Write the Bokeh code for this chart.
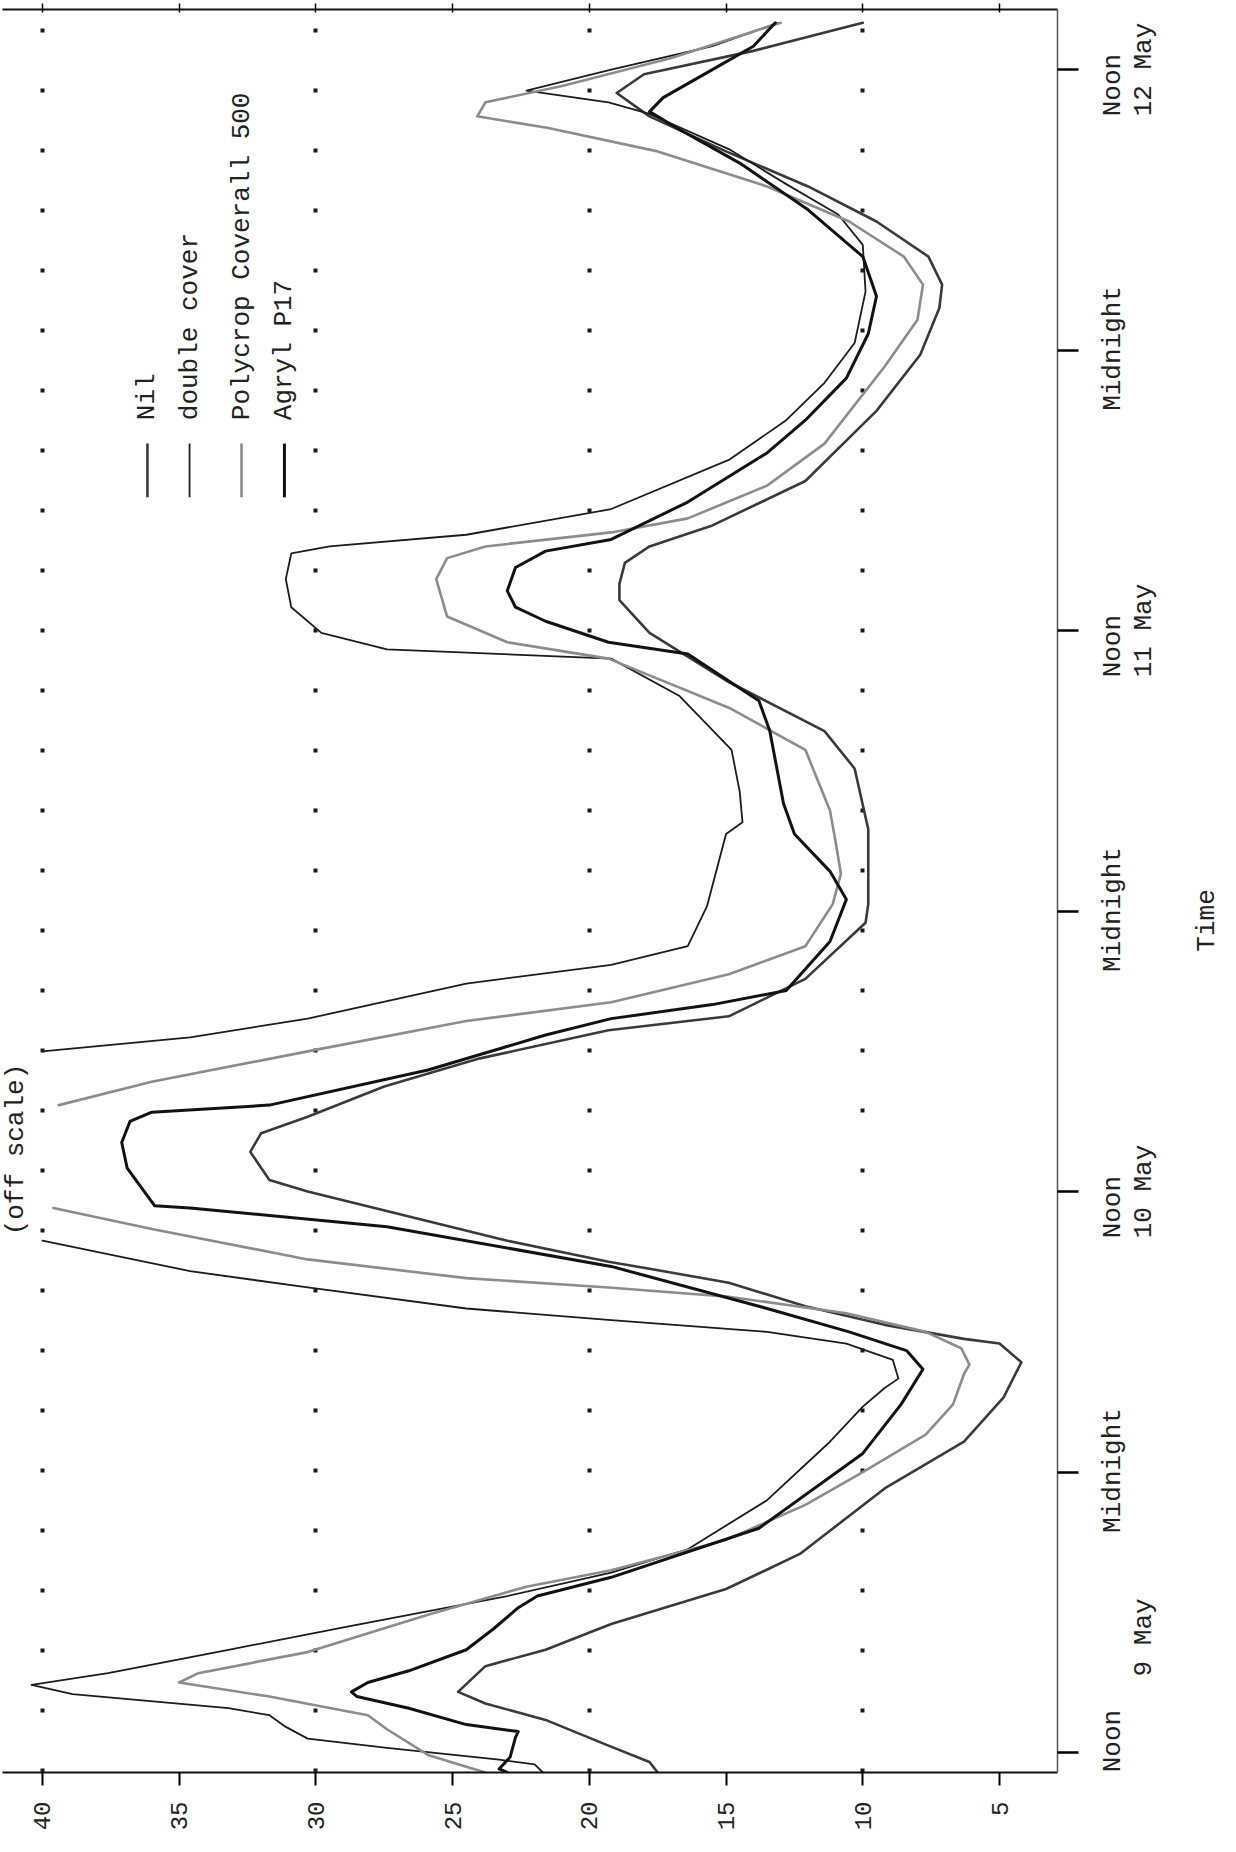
import math
from bokeh.plotting import figure
from bokeh.layouts import row
from bokeh.models import LinearAxis, FixedTicker, Range1d, Label
from bokeh.embed import file_html
from bokeh.resources import INLINE
from bokeh.core.properties import value

FONT = "Liberation Mono"
NAN = float("nan")

# ---- axes / labels -------------------------------------------------------
temp_ticks = [5, 10, 15, 20, 25, 30, 35, 40]
temp_grid = [10, 20, 30, 40]
time_ticks = [0, 12, 24, 36, 48, 60, 72]          # hours after noon, 9 May
time_line1 = ["Noon", "Midnight", "Noon", "Midnight", "Noon", "Midnight", "Noon"]
time_line2 = ["9 May", "", "10 May", "", "11 May", "", "12 May"]
# where each rotated label line starts, relative to its tick (hours) - layout only
line1_offsets = [-0.84, -2.6, -2.0, -2.6, -2.0, -2.6, -2.0]
line2_offsets = [3.26, 0.0, -2.0, 0.0, -2.0, 0.0, -2.0]
axis_title = "Time"
axis_title_at = 35.6

# ---- data: (hours after noon 9 May, temperature degC); NaN = off scale ----
nil_pts = [(-0.85, 17.5), (-0.4, 17.8), (0.3, 19.3), (1.4, 21.6), (2.1, 23.8), (2.6, 24.8),
           (3.7, 23.8), (4.4, 21.6), (5.5, 19.2), (7.0, 15.0), (8.5, 12.3), (11.3, 9.2),
           (13.3, 6.3), (15.2, 4.85), (16.7, 4.2), (17.5, 5.0), (17.7, 6.3), (18.3, 9.2),
           (19.1, 12.1), (20.1, 14.9), (20.7, 17.8), (21.0, 19.3), (21.9, 23.0), (24.0, 30.3),
           (24.5, 31.7), (25.7, 32.4), (26.5, 32.0), (27.2, 30.3), (28.5, 27.5), (29.7, 24.0),
           (30.9, 19.3), (31.5, 14.9), (33.1, 12.1), (35.5, 9.9), (36.3, 9.8), (39.5, 9.8),
           (42.1, 10.3), (43.7, 11.4), (45.8, 14.9), (47.9, 17.8), (49.3, 18.9), (50.0, 18.9),
           (50.9, 18.7), (51.6, 17.8), (52.5, 15.5), (54.4, 12.1), (57.4, 9.5), (59.8, 7.9),
           (61.8, 7.2), (62.8, 7.1), (64.0, 7.6), (65.5, 9.5), (67.0, 12.0), (68.5, 15.0),
           (70.0, 17.8), (71.0, 19.0), (71.8, 18.0), (72.8, 14.0), (74.0, 10.0)]

double_pts = [(-0.85, 21.7), (-0.5, 22.0), (-0.3, 23.3), (0.2, 27.4), (0.6, 30.3), (1.1, 31.1),
              (1.6, 31.7), (1.9, 33.2), (2.5, 38.9), (2.9, 40.4), (3.4, 37.6), (4.4, 33.2),
              (5.4, 28.8), (6.7, 23.0), (7.7, 19.2), (8.7, 16.4), (10.8, 13.5), (13.3, 11.2),
              (14.8, 10.0), (15.6, 9.2), (16.0, 8.7), (16.8, 8.9), (17.5, 10.6), (18.0, 13.5),
              (18.5, 19.2), (19.0, 24.5), (19.9, 30.3), (20.6, 34.6), (21.9, 40.0), (NAN, NAN),
              (30.0, 40.0), (30.6, 34.6), (31.4, 30.3), (32.9, 24.5), (33.7, 19.2), (34.5, 16.4),
              (36.2, 15.7), (39.3, 15.0), (39.8, 14.4), (41.1, 14.5), (42.9, 14.8), (45.2, 16.7),
              (46.8, 19.2), (47.2, 27.4), (47.9, 29.8), (49.0, 30.9), (50.2, 31.1), (51.3, 30.9),
              (51.6, 29.5), (52.1, 24.5), (53.2, 19.2), (55.3, 14.9), (57.0, 12.8), (58.6, 11.4),
              (60.3, 10.3), (62.5, 9.9), (64.5, 10.0), (65.8, 10.9), (67.1, 12.8), (68.6, 14.9),
              (70.1, 17.8), (70.6, 19.3), (71.1, 22.3), (72.0, 19.2), (73.0, 15.5), (74.0, 13.1)]

polycrop_pts = [(-0.85, 23.8), (-0.6, 24.5), (-0.1, 25.9), (1.0, 27.4), (1.6, 28.1), (2.4, 31.7),
                (3.0, 35.0), (3.4, 34.3), (4.3, 30.3), (5.9, 25.9), (7.1, 22.3), (7.8, 19.2),
                (9.1, 15.0), (10.6, 12.1), (12.0, 10.0), (13.6, 7.7), (14.9, 6.7), (16.2, 6.3),
                (16.6, 6.1), (17.3, 6.4), (18.0, 7.7), (18.8, 10.6), (19.5, 14.9), (19.9, 19.3),
                (20.3, 24.5), (21.1, 30.3), (22.4, 36.0), (23.3, 39.6), (NAN, NAN),
                (27.7, 39.4), (28.7, 36.0), (30.0, 30.3), (31.3, 24.5), (32.1, 19.2), (33.3, 14.9),
                (34.5, 12.1), (36.3, 11.1), (37.6, 10.8), (39.0, 11.0), (40.3, 11.2), (42.9, 12.1),
                (44.7, 14.9), (46.8, 19.3), (47.5, 23.0), (48.6, 25.2), (50.2, 25.6), (51.1, 25.2),
                (51.6, 23.8), (52.2, 19.2), (52.8, 16.4), (54.2, 13.5), (56.0, 11.4), (59.3, 9.2),
                (61.3, 8.0), (62.8, 7.8), (64.0, 8.5), (65.5, 10.5), (67.0, 13.5), (68.5, 17.5),
                (69.5, 21.5), (70.0, 24.1), (70.6, 23.8), (71.3, 21.0), (72.5, 17.0), (74.0, 13.0)]

agryl_pts = [(-0.85, 23.0), (-0.7, 23.3), (-0.2, 22.9), (0.65, 22.7), (0.9, 22.6), (1.2, 24.5),
             (1.9, 26.6), (2.4, 28.5), (2.6, 28.7), (3.0, 28.1), (3.5, 26.6), (4.4, 24.5),
             (5.3, 23.5), (6.2, 22.6), (6.7, 21.9), (7.5, 19.2), (9.6, 13.8), (12.8, 10.0),
             (14.9, 8.6), (16.4, 7.8), (17.2, 8.4), (18.0, 10.5), (19.0, 13.5), (20.8, 19.2),
             (22.5, 27.4), (23.3, 34.6), (23.4, 35.9), (25.0, 36.9), (26.1, 37.1), (27.0, 36.8),
             (27.4, 36.0), (27.7, 31.7), (29.2, 25.9), (30.7, 21.6), (31.4, 19.2), (32.0, 15.5),
             (32.6, 12.8), (34.7, 11.2), (36.5, 10.6), (37.7, 11.2), (39.3, 12.5), (40.6, 12.9),
             (43.7, 13.4), (45.0, 13.8), (47.0, 16.4), (47.5, 19.3), (48.4, 21.6), (49.0, 22.7),
             (49.7, 23.0), (50.7, 22.7), (51.4, 21.6), (51.9, 19.2), (53.5, 16.4), (55.6, 13.5),
             (57.0, 12.1), (58.8, 10.6), (60.7, 9.8), (62.3, 9.5), (64.0, 10.0), (66.0, 12.0),
             (68.0, 14.5), (69.5, 16.8), (70.2, 17.8), (70.8, 17.3), (72.0, 15.5), (73.0, 14.0),
             (74.0, 13.2)]

series_names = ["Nil", "double cover", "Polycrop Coverall 500", "Agryl P17"]
series_data = [nil_pts, double_pts, polycrop_pts, agryl_pts]
series_colors = ["#3a3a3a", "#1c1c1c", "#8c8c8c", "#121212"]
series_widths = [2.6, 1.8, 2.6, 3.0]

# ---- layout positions ----
legend_cols = [36.16, 34.62, 32.72, 31.15]   # temperature units
legend_text_start = 57.0                      # hours
legend_line = (53.7, 56.0)
note_pos = (40.95, 25.8)
MAIN_W, SIDE_W, H = 1083, 137, 1836
BORDER_TOP, BORDER_BOTTOM = 9, 64
side_cols = (29, 60, 123)                     # px columns in the side panel: line 1, line 2, title

y_rng = Range1d(-0.85, 74.57)

p = figure(width=MAIN_W, height=H,
           x_range=Range1d(41.46, 2.88), y_range=y_rng,
           output_backend="svg", toolbar_location=None,
           x_axis_location="below", y_axis_location="right",
           min_border_left=2, min_border_right=26,
           min_border_top=BORDER_TOP, min_border_bottom=BORDER_BOTTOM)
p.background_fill_color = "white"
p.border_fill_color = "white"
p.outline_line_color = None

# dotted guide columns
p.xgrid.ticker = FixedTicker(ticks=temp_grid)
p.xgrid.grid_line_color = "#1a1a1a"
p.xgrid.grid_line_width = 4
p.xgrid.grid_line_dash = "4 56"
p.ygrid.visible = False

# bottom temperature axis
xa = p.xaxis[0]
xa.ticker = FixedTicker(ticks=temp_ticks)
xa.axis_line_width = 2
xa.axis_line_color = "#111111"
xa.major_tick_out = 13
xa.major_tick_in = 0
xa.major_tick_line_width = 2
xa.minor_tick_out = 0
xa.minor_tick_in = 0
xa.major_label_orientation = math.pi / 2
xa.major_label_standoff = 16
xa.major_label_text_font = FONT
xa.major_label_text_font_size = "24px"
xa.major_label_text_color = "#222222"

# right time axis: line + ticks (labels drawn in the side panel)
ya = p.yaxis[0]
ya.ticker = FixedTicker(ticks=time_ticks)
ya.axis_line_width = 1.5
ya.axis_line_color = "#555555"
ya.major_tick_out = 21
ya.major_tick_in = 0
ya.major_tick_line_width = 2.5
ya.minor_tick_out = 0
ya.minor_tick_in = 0
ya.major_label_text_font_size = "0px"
ya.major_label_standoff = 0

# top frame line with small ticks
top = LinearAxis(ticker=FixedTicker(ticks=temp_ticks))
top.axis_line_width = 2
top.axis_line_color = "#111111"
top.major_tick_out = 6
top.major_tick_in = 3
top.major_tick_line_width = 1.5
top.minor_tick_out = 0
top.minor_tick_in = 0
top.major_label_text_font_size = "0px"
top.major_label_standoff = 0
p.add_layout(top, "above")

# curves
for name, pts, col, w in zip(series_names, series_data, series_colors, series_widths):
    hrs = [h for h, t in pts]
    tmp = [t for h, t in pts]
    p.line(x=tmp, y=hrs, line_color=col, line_width=w, line_join="round", line_cap="round")

# hand-made legend (rotated)
p.segment(x0=legend_cols, y0=[legend_line[0]] * 4, x1=legend_cols, y1=[legend_line[1]] * 4,
          line_color=series_colors, line_width=series_widths)
p.text(x=legend_cols, y=[legend_text_start] * 4, text=series_names, angle=math.pi / 2,
       text_align="left", text_baseline="middle", text_font=value(FONT),
       text_font_size="26px", text_color="#222222")

p.add_layout(Label(x=note_pos[0], y=note_pos[1], text="(off scale)", angle=math.pi / 2,
                   text_align="center", text_baseline="middle", text_font=FONT,
                   text_font_size="26px", text_color="#222222"))

# ---- side panel sharing the time scale: rotated tick labels and axis title ----
s = figure(width=SIDE_W, height=H, x_range=Range1d(0, SIDE_W), y_range=y_rng,
           output_backend="svg", toolbar_location=None,
           x_axis_location=None, y_axis_location=None,
           min_border_left=0, min_border_right=0,
           min_border_top=BORDER_TOP, min_border_bottom=BORDER_BOTTOM)
s.background_fill_color = "white"
s.border_fill_color = "white"
s.outline_line_color = None
s.grid.visible = False

l1_y = [t + o for t, o in zip(time_ticks, line1_offsets)]
l2 = [(t + o, txt) for t, o, txt in zip(time_ticks, line2_offsets, time_line2) if txt]
common = dict(angle=math.pi / 2, text_baseline="middle", text_font=value(FONT),
              text_font_size="26px", text_color="#222222")
s.text(x=[side_cols[0]] * len(l1_y), y=l1_y, text=time_line1, text_align="left", **common)
s.text(x=[side_cols[1]] * len(l2), y=[a for a, b in l2], text=[b for a, b in l2],
       text_align="left", **common)
s.text(x=[side_cols[2]], y=[axis_title_at], text=[axis_title], text_align="center", **common)

layout = row(p, s, spacing=0)
open("out.html", "w").write(file_html(layout, INLINE))
